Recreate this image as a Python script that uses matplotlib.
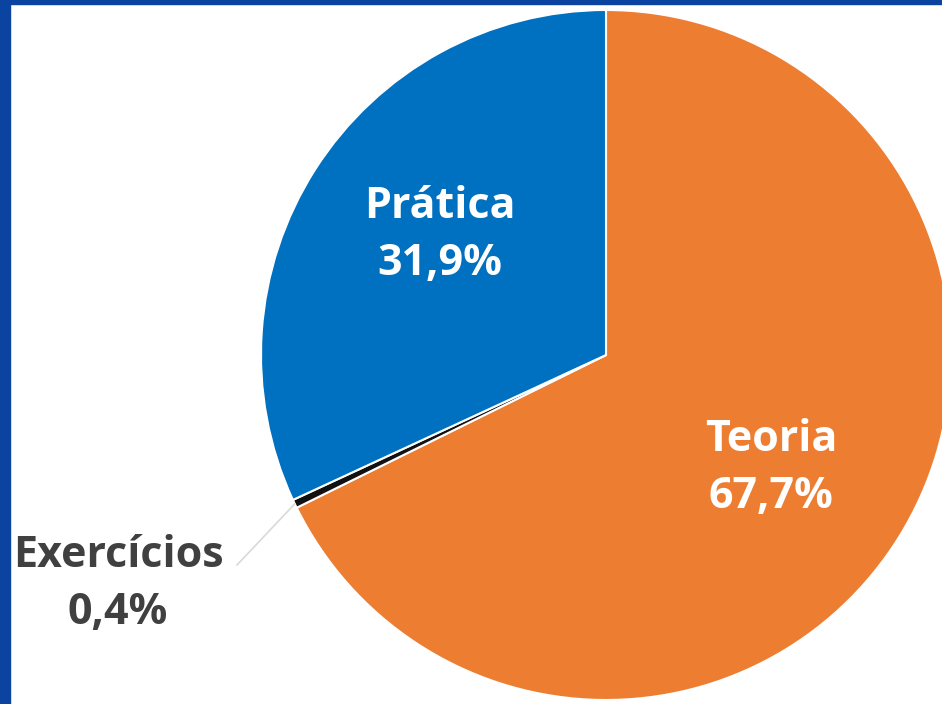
import matplotlib.pyplot as plt
import matplotlib.patches as mpatches
import numpy as np

labels = ['Teoria', 'Exercícios', 'Prática']
values = [67.7, 0.4, 31.9]
pct_text = ['67,7%', '0,4%', '31,9%']
colors = ['#ED7D31', '#111111', '#0070C0']

plt.rcParams['font.family'] = ['Open Sans', 'DejaVu Sans']

fig = plt.figure(figsize=(9.42, 7.04), dpi=100)
fig.patch.set_facecolor('white')
ax = fig.add_axes([0, 0, 1, 1])

cx, cy, r = 606, 704 - 355, 345
wedges, _ = ax.pie(values, colors=colors, startangle=90, counterclock=False,
                   center=(cx, cy), radius=r, frame=True,
                   wedgeprops=dict(edgecolor='white', linewidth=1.5))

ax.set_xlim(0, 942)
ax.set_ylim(0, 704)
ax.set_aspect('equal')
ax.axis('off')

# label positions (pixels from top-left)
label_pos = {0: (771, 468), 2: (440, 235)}
for i, (x, y) in label_pos.items():
    ax.text(x, 704 - y, labels[i] + '\n' + pct_text[i], ha='center', va='center',
            color='white', fontsize=31, fontweight='bold', linespacing=1.45)

# small slice label outside with a leader line
w = wedges[1]
mid = np.deg2rad((w.theta1 + w.theta2) / 2)
px, py = cx + r * np.cos(mid), cy + r * np.sin(mid)
ax.plot([px, 237], [py, 704 - 565], color='#D9D9D9', linewidth=1.2)
ax.text(118, 704 - 584, labels[1] + '\n' + pct_text[1], ha='center', va='center',
        color='#404040', fontsize=31, fontweight='bold', linespacing=1.45)

# blue border on the left and top
fig.patches.append(mpatches.Rectangle((0, 0), 10 / 942, 1, transform=fig.transFigure,
                                      color='#0A44A0', zorder=10))
fig.patches.append(mpatches.Rectangle((0, 1 - 4 / 704), 1, 4 / 704, transform=fig.transFigure,
                                      color='#0A44A0', zorder=10))

fig.savefig('out.png', dpi=100, facecolor='white')
